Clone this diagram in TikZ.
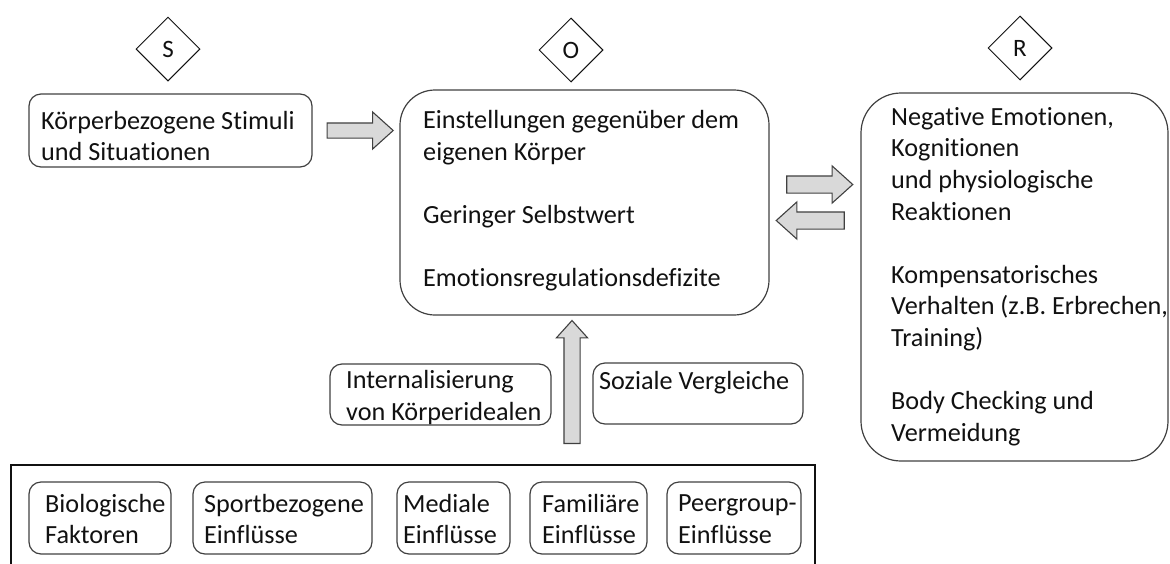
\documentclass[tikz,border=0pt]{standalone}
\usepackage{fontspec}
\setmainfont{Carlito}[Ligatures=NoCommon]
\usetikzlibrary{shapes.geometric,shapes.arrows,calc}
\definecolor{edge}{HTML}{404040}
\definecolor{arrowfill}{HTML}{D9D9D9}
\definecolor{ink}{HTML}{111111}
\begin{document}
\begin{tikzpicture}[x=1pt,y=-1pt,
  box/.style={draw=edge, line width=1.2pt, rectangle, inner sep=0pt, rounded corners=12pt},
  txt/.style={inner sep=0pt, align=left, text=ink, font=\fontsize{26.2}{31.6}\selectfont, anchor=west},
  letterbox/.style={draw=ink, line width=1pt, diamond, aspect=1, inner sep=0pt, minimum width=64pt, minimum height=64pt, text=ink, font=\fontsize{25}{29}\selectfont},
  blockarrow/.style={draw=edge, fill=arrowfill, line width=1.1pt, single arrow, inner xsep=0pt, single arrow tip angle=84}
]
\useasboundingbox (0,0) rectangle (1170,563);

% letters
\node[letterbox] (S) at (168,49) {S};
\node[letterbox] (O) at (571,50) {O};
\node[letterbox] (R) at (1020,48) {R};

% main boxes
\node[box, minimum width=283pt, minimum height=73pt] (stim) at (170.5,130.5) {};
\node[box, rounded corners=35pt, minimum width=369pt, minimum height=225pt] (org) at (584.5,202.5) {};
\node[box, rounded corners=40pt, minimum width=307pt, minimum height=368pt] (resp) at (1014.5,277) {};

\node[txt] (stimT) at (41,136) {Körperbezogene Stimuli\\und Situationen};
\node[txt] (orgT) at (423,201) {Einstellungen gegenüber dem\\eigenen Körper\\[31.6pt]Geringer Selbstwert\\[31.6pt]Emotionsregulationsdefizite};
\node[txt] (respT) at (891,276.5) {Negative Emotionen,\\Kognitionen\\und physiologische\\Reaktionen\\[31.6pt]Kompensatorisches\\Verhalten (z.B. Erbrechen,\\Training)\\[31.6pt]Body Checking und\\Vermeidung};

% mediating boxes
\node[box, minimum width=221pt, minimum height=61pt] (intern) at (440.5,394.5) {};
\node[box, minimum width=210pt, minimum height=61pt] (sozial) at (698,393.5) {};
\node[txt] (internT) at (346,397.5) {Internalisierung\\von Körperidealen};
\node[txt] (sozialT) at (599,383) {Soziale Vergleiche};

% frame with influence boxes
\begin{scope}
\clip (0,0) rectangle (1170,563);
\draw[draw=ink, line width=1.2pt] (11,465) rectangle (815,620);
\end{scope}
\node[box, minimum width=142pt, minimum height=72pt] (bio) at (100,518) {};
\node[box, minimum width=179pt, minimum height=72pt] (sport) at (282.5,518) {};
\node[box, minimum width=113pt, minimum height=72pt] (medial) at (453.5,518) {};
\node[box, minimum width=117pt, minimum height=72pt] (famil) at (588.5,518) {};
\node[box, minimum width=134pt, minimum height=72pt] (peer) at (734,518) {};
\node[txt] (bioT) at (45,519) {Biologische\\Faktoren};
\node[txt] (sportT) at (204,519) {Sportbezogene\\Einflüsse};
\node[txt] (medialT) at (403,519) {Mediale\\Einflüsse};
\node[txt] (familT) at (542,519) {Familiäre\\Einflüsse};
\node[txt] (peerT) at (678,519) {Peergroup-\\Einflüsse};

% block arrows
\node[blockarrow, minimum height=66pt, inner ysep=7pt, single arrow head extend=11pt]
  (a1) at ($(stim.east)!0.5!(stim.east -| org.west)$) {};
\node[blockarrow, minimum height=66pt, inner ysep=8pt, single arrow head extend=10pt]
  (a2) at ($($(org.east)!0.5!(org.east -| resp.west)$)+(0,-18)$) {};
\node[blockarrow, rotate=180, minimum height=68pt, inner ysep=8pt, single arrow head extend=10pt]
  (a3) at ($($(org.east)!0.5!(org.east -| resp.west)$)+(0,18)$) {};
\node[blockarrow, rotate=90, minimum height=123pt, inner ysep=7.5pt, single arrow head extend=7.5pt]
  (a4) at (572,386.5) {};
\end{tikzpicture}
\end{document}
